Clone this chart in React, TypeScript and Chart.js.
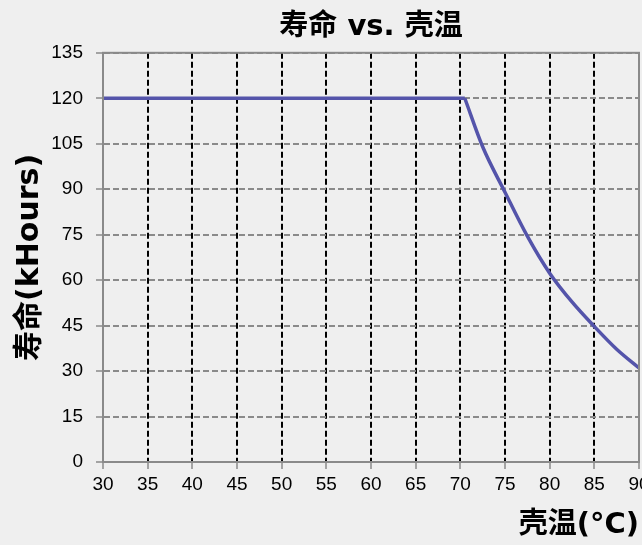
import React, { useEffect, useRef } from "react";
import { Chart, registerables } from "chart.js";

Chart.register(...registerables);

const flatTemps = [30, 70.5];
const flatLife = [120, 120];
const curveTemps = [70.5, 72.5, 75, 77.5, 80, 82.5, 85, 87.5, 90];
const curveLife = [120, 104, 89, 74.5, 62.3, 52.8, 44.7, 37.2, 31];

const chartTitle = "寿命 vs. 壳温";
const xTitle = "壳温(°C)";
const yTitle = "寿命(kHours)";

const TICK_FONT = '"Liberation Sans", Arial, sans-serif';
const TITLE_FONT = '"DejaVu Sans", "Noto Sans CJK SC", sans-serif';
const LINE_COLOR = "#5454AA";

const borderPlugin = {
  id: "plotBorder",
  afterDatasetsDraw(chart: any) {
    const { ctx, chartArea } = chart;
    ctx.save();
    ctx.strokeStyle = "#8a8a8a";
    ctx.lineWidth = 2;
    ctx.setLineDash([]);
    ctx.strokeRect(chartArea.left, chartArea.top, chartArea.right - chartArea.left, chartArea.bottom - chartArea.top);
    ctx.restore();
  },
};

export default function App() {
  const ref = useRef<HTMLCanvasElement | null>(null);
  useEffect(() => {
    if (!ref.current) return;
    const chart = new Chart(ref.current, {
      type: "scatter",
      data: {
        datasets: [
          {
            data: flatTemps.map((t, i) => ({ x: t, y: flatLife[i] })),
            showLine: true,
            borderColor: LINE_COLOR,
            borderWidth: 3.5,
            pointRadius: 0,
            tension: 0,
          },
          {
            data: curveTemps.map((t, i) => ({ x: t, y: curveLife[i] })),
            showLine: true,
            borderColor: LINE_COLOR,
            borderWidth: 3.5,
            pointRadius: 0,
            cubicInterpolationMode: "monotone",
          },
        ],
      },
      options: {
        animation: false,
        responsive: false,
        maintainAspectRatio: false,
        layout: { padding: { left: 0, right: 3, top: 0, bottom: 0 } },
        plugins: {
          legend: { display: false },
          tooltip: { enabled: false },
          title: {
            display: true,
            fullSize: false,
            text: chartTitle,
            color: "#000",
            font: { family: TITLE_FONT, size: 29, weight: "bold" },
            padding: { top: 10, bottom: 8 },
          },
        },
        scales: {
          x: {
            type: "linear",
            min: 30,
            max: 90,
            afterFit: (s: any) => {
              s.paddingRight = 0;
              s.paddingLeft = 0;
              s.height = 83;
            },
            ticks: {
              stepSize: 5,
              color: "#000",
              padding: 4,
              maxRotation: 0,
              font: { family: TICK_FONT, size: 19 },
            },
            grid: {
              color: "#000",
              lineWidth: 2,
              tickLength: 7,
              tickColor: "#8a8a8a",
              tickBorderDash: [],
              tickWidth: 1.5,
            } as any,
            border: { display: true, color: "#8a8a8a", width: 2, dash: [6, 3] },
            title: {
              display: true,
              text: xTitle,
              align: "end",
              color: "#000",
              font: { family: TITLE_FONT, size: 29, weight: "bold" },
              padding: { top: 8, bottom: 2 },
            },
          },
          y: {
            min: 0,
            max: 135,
            afterFit: (s: any) => {
              s.width = 103;
            },
            ticks: {
              stepSize: 15,
              color: "#000",
              padding: 13,
              font: { family: TICK_FONT, size: 19 },
            },
            grid: {
              color: "#8a8a8a",
              lineWidth: 2,
              tickLength: 7,
              tickColor: "#8a8a8a",
              tickBorderDash: [],
              tickWidth: 1.5,
            } as any,
            border: { display: true, color: "#8a8a8a", width: 2, dash: [6, 3] },
            title: {
              display: true,
              text: yTitle,
              color: "#000",
              font: { family: TITLE_FONT, size: 30, weight: "bold" },
              padding: { top: 12, bottom: 0 },
            },
          },
        },
      },
      plugins: [borderPlugin],
    } as any);
    return () => chart.destroy();
  }, []);

  return (
    <div style={{ position: "fixed", left: 0, top: 0, width: 642, height: 545, background: "#EFEFEF" }}>
      <canvas ref={ref} width={642} height={545} style={{ width: 642, height: 545, display: "block" }} />
    </div>
  );
}
